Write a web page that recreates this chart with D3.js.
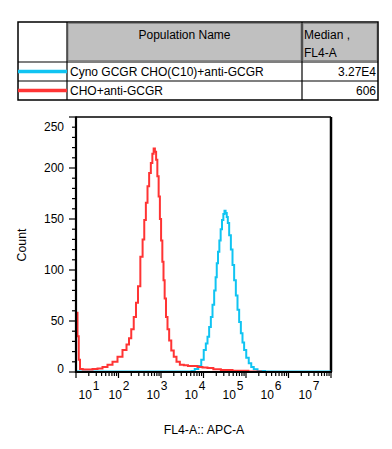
<!DOCTYPE html>
<html><head><meta charset="utf-8">
<script src="https://cdn.jsdelivr.net/npm/d3@7"></script>
<style>
body{margin:0;background:#fff;}
svg{display:block;font-family:"Liberation Sans",Arial,sans-serif;}
</style></head>
<body><svg id="c" width="392" height="449"></svg>
<script>
// ---- data ----
const populations = ["Cyno GCGR CHO(C10)+anti-GCGR", "CHO+anti-GCGR"];
const medians = ["3.27E4", "606"];
const colors = ["#10c4f2", "#ff3434"];
// log10(FL4-A) positions and counts
const redLog = [1.024,1.047,1.082,1.106,1.212,1.329,1.447,1.565,1.682,1.8,1.918,2.035,2.153,2.224,2.271,2.329,2.388,2.435,2.482,2.546,2.588,2.624,2.664,2.701,2.741,2.781,2.812,2.842,2.871,2.899,2.929,2.96,2.988,3.016,3.047,3.071,3.101,3.134,3.172,3.212,3.271,3.329,3.4,3.487,3.588,3.682,3.8,3.918,4.035,4.153,4.311,4.506,4.859,5.252,5.447,7.0];
const redCount = [58,35,12,3,2.5,2.5,3,3.5,5,7,10,15,21.5,27,33,42,54,68,84,113,130,149,166,182,195,205,214,219,216,208,192,172,150,129,108,90,72,54,42,31,21,15,10,7,6.5,6,6,5,4.5,4,2.6,2,1.3,0.5,0,0];
const blueLog = [1.024,3.682,3.753,3.835,3.918,3.976,4.035,4.075,4.113,4.153,4.193,4.231,4.271,4.299,4.325,4.358,4.388,4.419,4.452,4.482,4.506,4.534,4.56,4.584,4.624,4.664,4.701,4.741,4.781,4.819,4.859,4.899,4.936,4.976,5.035,5.094,5.153,5.212,5.329,5.565,7.0];
const blueCount = [0.5,0.5,1,3,6,12,21.5,28,34.6,44,54,66,80,93,106.6,118,129,140,149,155,158,156,152,146,134,120,105,90,75,61,49,38,29,21.5,14,8.5,5,2.6,1,0.5,0.5];
const yTicks = [0,50,100,150,200,250];
const xExp = [1,2,3,4,5,6,7];
const xTitle = "FL4-A:: APC-A";
const yTitle = "Count";

const svg = d3.select("#c");

// ---- table ----
const T = {x0:18, x1:67, x2:302, x3:378, y0:22, y1:62, y2:81, y3:100};
const tg = svg.append("g");
tg.append("rect").attr("x",T.x1+1).attr("y",T.y0+1.5).attr("width",T.x2-T.x1-2).attr("height",T.y1-T.y0-3).attr("fill","#c0c0c0").attr("stroke","#888").attr("stroke-width",1);
tg.append("rect").attr("x",T.x2+1).attr("y",T.y0+1.5).attr("width",T.x3-T.x2-2).attr("height",T.y1-T.y0-3).attr("fill","#c0c0c0").attr("stroke","#888").attr("stroke-width",1);
tg.append("rect").attr("x",T.x0).attr("y",T.y0).attr("width",T.x3-T.x0).attr("height",T.y3-T.y0).attr("fill","none").attr("stroke","#000").attr("stroke-width",1.5);
[[T.x1,T.y0,T.x1,T.y3],[T.x2,T.y0,T.x2,T.y3],[T.x0,T.y1,T.x3,T.y1],[T.x0,T.y2,T.x3,T.y2]].forEach(l=>{
  tg.append("line").attr("x1",l[0]).attr("y1",l[1]).attr("x2",l[2]).attr("y2",l[3]).attr("stroke","#000").attr("stroke-width",1.2);
});
tg.append("text").attr("x",(T.x1+T.x2)/2).attr("y",39).attr("text-anchor","middle").attr("font-size",12).text("Population Name");
tg.append("text").attr("x",T.x2+2).attr("y",39).attr("font-size",12).text("Median ,");
tg.append("text").attr("x",T.x2+2).attr("y",57).attr("font-size",12).text("FL4-A");
const rowY = [T.y1, T.y2];
populations.forEach((p,i)=>{
  const cy = rowY[i] + 9.5;
  tg.append("line").attr("x1",T.x0).attr("x2",T.x1).attr("y1",cy).attr("y2",cy).attr("stroke",colors[i]).attr("stroke-width",3.5);
  tg.append("text").attr("x",T.x1+3).attr("y",cy+4).attr("font-size",12).text(p);
  tg.append("text").attr("x",T.x3-2).attr("y",cy+4).attr("text-anchor","end").attr("font-size",12).text(medians[i]);
});

// ---- plot ----
const P = {l:76, r:331, t:117, b:372};
const x = d3.scaleLog().domain([10, 1e7]).range([P.l, P.r]);
const y = d3.scaleLinear().domain([0, 250]).range([P.b, P.t]);

const g = svg.append("g");
g.append("line").attr("x1",P.l).attr("x2",P.r).attr("y1",P.t).attr("y2",P.t).attr("stroke","#000").attr("stroke-width",1.5);
g.append("line").attr("x1",P.r).attr("x2",P.r).attr("y1",P.t).attr("y2",P.b).attr("stroke","#000").attr("stroke-width",2.5);

const mk = d3.line().x(d=>x(Math.pow(10,d[0]))).y(d=>y(d[1])).curve(d3.curveStep);
g.append("path").attr("d", mk(blueLog.map((v,i)=>[v,blueCount[i]]))).attr("fill","none").attr("stroke",colors[0]).attr("stroke-width",2);
g.append("path").attr("d", mk(redLog.map((v,i)=>[v,redCount[i]]))).attr("fill","none").attr("stroke",colors[1]).attr("stroke-width",2);

// y axis
const yMinor = d3.range(0,251,10);
g.selectAll(".ym").data(yMinor).join("line").attr("x1",P.l).attr("x2",d=>yTicks.includes(d)?P.l-7:P.l-4).attr("y1",d=>y(d)).attr("y2",d=>y(d)).attr("stroke","#000").attr("stroke-width",1.2);
g.append("line").attr("x1",P.l).attr("x2",P.l).attr("y1",P.t-0.5).attr("y2",P.b+1).attr("stroke","#000").attr("stroke-width",2.2);
g.selectAll(".yl").data(yTicks).join("text").attr("x",64).attr("y",d=>y(d)+(d===250?10:(d===0?-3:0))).attr("dy","0.35em").attr("text-anchor","end").attr("font-size",12).text(d=>d);

// x axis
const xMinor = [];
for (let e=1;e<7;e++) for (let m=1;m<10;m++) xMinor.push(m*Math.pow(10,e));
xMinor.push(1e7);
g.selectAll(".xm").data(xMinor).join("line").attr("x1",d=>x(d)).attr("x2",d=>x(d)).attr("y1",P.b).attr("y2",d=>xExp.includes(Math.round(Math.log10(d)*1000)/1000)?P.b+6:P.b+4).attr("stroke","#000").attr("stroke-width",1.2);
g.append("line").attr("x1",P.l-1).attr("x2",P.r+1).attr("y1",P.b).attr("y2",P.b).attr("stroke","#000").attr("stroke-width",2.2);
const xl = d3.scaleLog().domain([1e2, 1e7]).range([121, 311]);
xExp.forEach(e=>{
  let cx = e===1 ? 91 : xl(Math.pow(10,e));
  const t = g.append("text").attr("x",cx-2).attr("y",399).attr("text-anchor","middle").attr("font-size",12);
  t.append("tspan").text("10");
  t.append("tspan").attr("dx",1).attr("dy",-9).text(e);
});

svg.append("text").attr("x",204).attr("y",434).attr("text-anchor","middle").attr("font-size",12.3).text(xTitle);
svg.append("text").attr("transform","translate(26,245) rotate(-90)").attr("text-anchor","middle").attr("font-size",12.3).text(yTitle);
</script></body></html>
